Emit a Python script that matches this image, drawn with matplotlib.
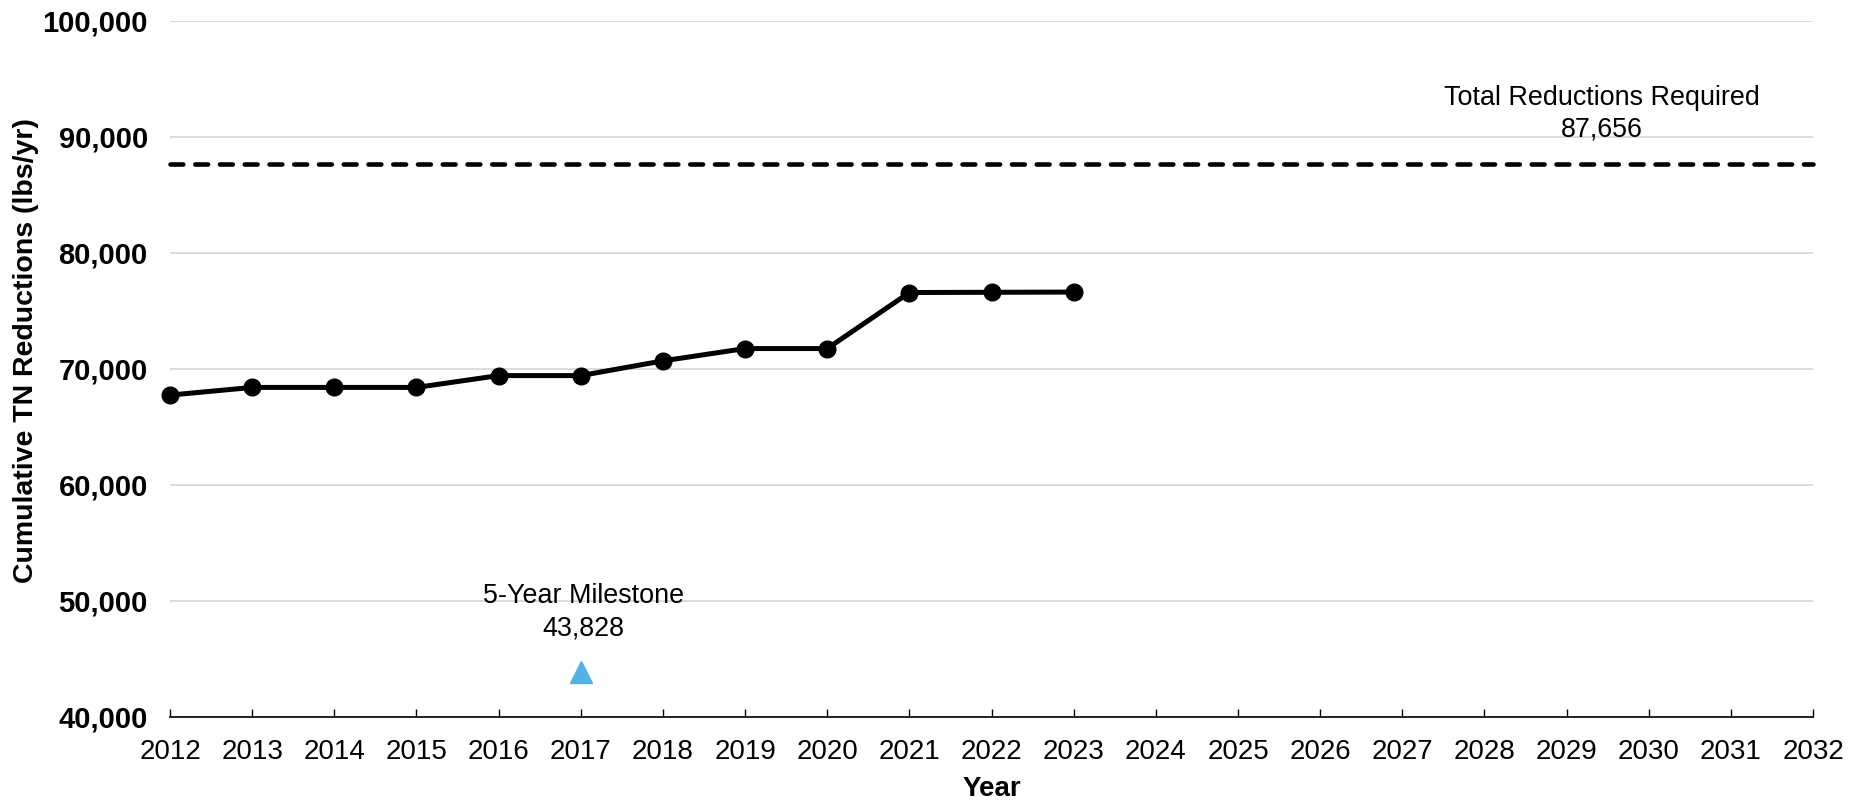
import matplotlib
matplotlib.use("Agg")
import matplotlib.pyplot as plt
from matplotlib.ticker import FuncFormatter

plt.rcParams['font.family'] = ['Liberation Sans', 'DejaVu Sans']

years = [2012, 2013, 2014, 2015, 2016, 2017, 2018, 2019, 2020, 2021, 2022, 2023]
cumulative = [67740, 68400, 68400, 68400, 69420, 69420, 70690, 71750, 71750, 76580, 76600, 76620]
required_total = 87656
milestone_year = 2017
milestone_value = 43828
x_ticks = list(range(2012, 2033))
y_ticks = [40000, 50000, 60000, 70000, 80000, 90000, 100000]

fig = plt.figure(figsize=(18.52, 8.01), dpi=100)
ax = fig.add_axes([0.0918, 0.105, 0.979 - 0.0918, 0.974 - 0.105])

ax.set_xlim(2012, 2032)
ax.set_ylim(40000, 100000)
ax.set_yticks(y_ticks)
ax.set_xticks(x_ticks)
ax.yaxis.set_major_formatter(FuncFormatter(lambda v, p: f"{int(v):,}"))
ax.grid(axis='y', color='#d9d9d9', linewidth=1.3, zorder=0)
ax.set_axisbelow(True)

for s in ['left', 'right', 'top']:
    ax.spines[s].set_visible(False)
ax.spines['bottom'].set_color('#000000')
ax.spines['bottom'].set_linewidth(1.2)

ax.tick_params(axis='y', length=0, labelsize=21, pad=16)
ax.tick_params(axis='x', direction='in', length=6, width=1, labelsize=20, pad=16, color='#000000')
for lab in ax.get_yticklabels():
    lab.set_fontweight('bold')

ax.plot([2012, 2032], [required_total, required_total], color='black', linewidth=3.3,
        linestyle=(0, (2.8, 2.6)), dash_capstyle='round', zorder=2, clip_on=False)
ax.plot(years, cumulative, color='black', linewidth=3.6, marker='o', markersize=12,
        clip_on=False, zorder=3)
ax.plot([milestone_year], [milestone_value], marker='^', color='#4FB3E8', markersize=16,
        linestyle='none', zorder=3)

ax.text(2029.43, 92000, f"Total Reductions Required\n{required_total:,}", ha='center', va='center',
        fontsize=19.4, linespacing=1.3)
ax.text(2017.03, 49000, f"5-Year Milestone\n{milestone_value:,}", ha='center', va='center',
        fontsize=19.4, linespacing=1.3)

ax.set_xlabel('Year', fontsize=20, fontweight='bold', labelpad=8)
ax.set_ylabel('Cumulative TN Reductions (lbs/yr)', fontsize=20.5, fontweight='bold')
ax.yaxis.set_label_coords(-0.0795, 0.526)

fig.savefig('out.png', dpi=100)
